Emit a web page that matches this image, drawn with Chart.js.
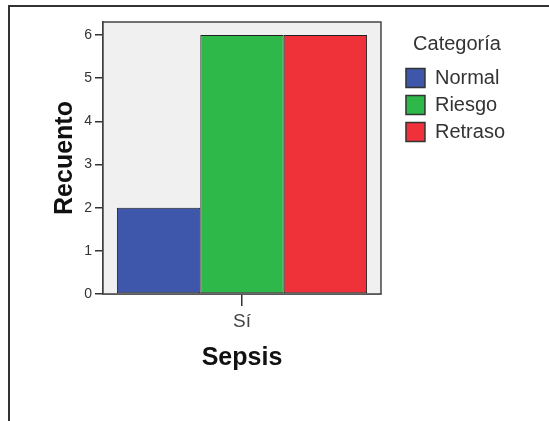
<!DOCTYPE html>
<html>
<head>
<meta charset="utf-8">
<script src="https://cdn.jsdelivr.net/npm/chart.js@4/dist/chart.umd.min.js"></script>
<style>
    html, body { margin: 0; padding: 0; background: #fff; overflow: hidden; }
    #wrap  { position: absolute; left: 0; top: 0; width: 549px; height: 421px; }
    #frame { position: absolute; left: 8px; top: 5px; width: 541px; height: 416px;
             border-top: 2px solid #333; border-left: 2px solid #333; pointer-events: none; box-sizing: border-box; }
</style>
</head>
<body>
<div id="wrap"><canvas id="chart"></canvas></div>
<div id="frame"></div>
<script>
(function () {
    'use strict';

    // ─── Data ────────────────────────────────────────────────────────────────
    const categories     = ['Sí'];
    const seriesNames    = ['Normal', 'Riesgo', 'Retraso'];
    const normalCounts   = [2];
    const riesgoCounts   = [6];
    const retrasoCounts  = [6];
    const yTicks         = [0, 1, 2, 3, 4, 5, 6];

    const FONT   = "'Liberation Sans', Arial, sans-serif";
    const COLORS = ['#3e57aa', '#2fb84a', '#ef3139'];

    // grey plot panel + dark frame, like the SPSS output
    const panel = {
        id: 'panel',
        beforeDatasetsDraw(chart) {
            const { ctx, chartArea: a } = chart;
            ctx.save();
            ctx.fillStyle = '#f0f0f0';
            ctx.fillRect(a.left, a.top, a.right - a.left, a.bottom - a.top);
            ctx.strokeStyle = '#444';
            ctx.lineWidth = 1.5;
            ctx.strokeRect(a.left, a.top, a.right - a.left, a.bottom - a.top);
            ctx.restore();
        }
    };

    const series = [normalCounts, riesgoCounts, retrasoCounts];

    new Chart(document.getElementById('chart'), {
        type: 'bar',
        data: {
            labels: categories,
            datasets: series.map((vals, i) => ({
                label:           seriesNames[i],
                data:            vals,
                backgroundColor: COLORS[i],
                borderColor:     '#222',
                borderWidth:     1,
                borderSkipped:   false,
                categoryPercentage: 0.9,
                barPercentage:      1,
            })),
        },
        options: {
            responsive: true,
            maintainAspectRatio: false,
            animation: false,
            layout: { padding: { left: 46, top: 22, right: 34, bottom: 44 } },
            plugins: {
                tooltip: { enabled: false },
                legend: {
                    position: 'right',
                    align: 'start',
                    maxWidth: 200,
                    title: {
                        display: true,
                        text: 'Categoría',
                        position: 'center',
                        color: '#333',
                        font: { family: FONT, size: 20 },
                        padding: { top: 12, bottom: 3 },
                    },
                    labels: {
                        boxWidth: 19,
                        boxHeight: 19,
                        padding: 7,
                        color: '#333',
                        font: { family: FONT, size: 20 },
                        generateLabels: chart => chart.data.datasets.map((d, i) => ({
                            text: d.label,
                            fillStyle: d.backgroundColor,
                            strokeStyle: '#333',
                            lineWidth: 1.5,
                            datasetIndex: i,
                        })),
                    },
                },
            },
            scales: {
                x: {
                    offset: true,
                    grid:   { offset: false, drawOnChartArea: false, tickLength: 12, color: '#333', lineWidth: 1.5 },
                    border: { color: '#333', width: 1.5 },
                    ticks:  { color: '#444', padding: 4, font: { family: FONT, size: 19 } },
                    title:  { display: true, text: 'Sepsis', color: '#111', font: { family: FONT, size: 25, weight: 'bold' } },
                    afterFit: s => { s.height = 83; },
                },
                y: {
                    min: 0,
                    max: 6.3,
                    afterBuildTicks: s => { s.ticks = yTicks.map(v => ({ value: v })); },
                    grid:   { drawOnChartArea: false, tickLength: 8, color: '#333', lineWidth: 1.5 },
                    border: { color: '#333', width: 1.5 },
                    ticks:  { color: '#333', padding: 3, font: { family: FONT, size: 14 } },
                    title:  { display: true, text: 'Recuento', color: '#111', font: { family: FONT, size: 25, weight: 'bold' } },
                    afterFit: s => { s.width = 57; },
                },
                // empty spacer between plot panel and legend
                gap: {
                    type: 'linear',
                    position: 'right',
                    grid:   { display: false },
                    ticks:  { display: false },
                    border: { display: false },
                    afterFit: s => { s.width = 18; },
                },
            },
        },
        plugins: [panel],
    });
})();
</script>
</body>
</html>
